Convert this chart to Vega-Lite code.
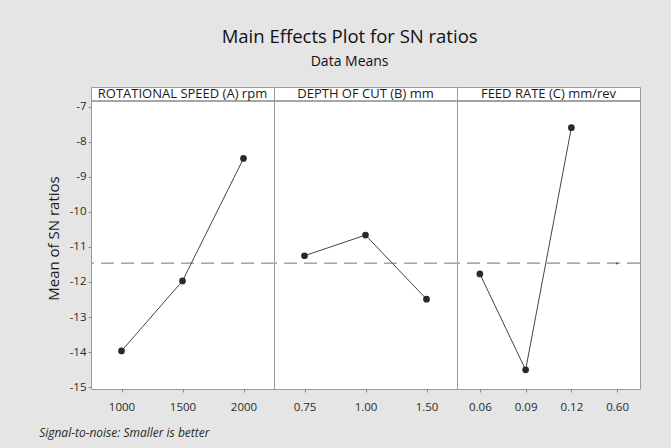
{
  "$schema": "https://vega.github.io/schema/vega-lite/v6.json",
  "background": "#e5e5e5",
  "padding": {"left": 39, "top": 28, "right": 35, "bottom": 9},
  "config": {
    "font": "Open Sans",
    "view": {"fill": "white", "stroke": "#9a9a9a", "strokeWidth": 1},
    "axis": {"domain": false, "grid": false, "tickColor": "#8a8a8a", "tickSize": 3, "labelColor": "#2a2a2a", "labelFontSize": 11.5, "titleColor": "#1a1a1a", "titleFontWeight": "normal", "labelOverlap": false}
  },
  "title": {"text": "Signal-to-noise: Smaller is better", "orient": "bottom", "anchor": "start", "frame": "bounds", "fontStyle": "italic", "fontSize": 12, "fontWeight": "normal", "color": "#2a2a2a", "offset": 15, "dx": -7},
  "data": {"values": [
    {"factor": "A", "label": "ROTATIONAL SPEED (A) rpm", "level": "1000", "sn": -13.97},
    {"factor": "A", "label": "ROTATIONAL SPEED (A) rpm", "level": "1500", "sn": -11.97},
    {"factor": "A", "label": "ROTATIONAL SPEED (A) rpm", "level": "2000", "sn": -8.47},
    {"factor": "B", "label": "DEPTH OF CUT (B) mm", "level": "0.75", "sn": -11.25},
    {"factor": "B", "label": "DEPTH OF CUT (B) mm", "level": "1.00", "sn": -10.66},
    {"factor": "B", "label": "DEPTH OF CUT (B) mm", "level": "1.50", "sn": -12.49},
    {"factor": "C", "label": "FEED RATE (C) mm/rev", "level": "0.06", "sn": -11.77},
    {"factor": "C", "label": "FEED RATE (C) mm/rev", "level": "0.09", "sn": -14.51},
    {"factor": "C", "label": "FEED RATE (C) mm/rev", "level": "0.12", "sn": -7.59},
    {"factor": "C", "label": "FEED RATE (C) mm/rev", "level": "0.60", "sn": null}
  ]},
  "vconcat": [
    {
      "title": {"text": "Main Effects Plot for SN ratios", "subtitle": "Data Means", "anchor": "middle", "frame": "bounds", "dx": 6, "fontSize": 18.5, "fontWeight": "normal", "color": "#111111", "subtitleFontSize": 14, "subtitleColor": "#111111", "subtitlePadding": 8, "offset": 18},
      "facet": {"column": {"field": "factor", "type": "nominal", "title": null, "header": {"labels": false, "title": null}}},
      "spacing": 0,
      "bounds": "flush",
      "resolve": {"scale": {"x": "independent"}},
      "spec": {
        "width": 183,
        "height": 302,
        "layer": [
          {
            "mark": {"type": "rule", "color": "#9a9a9a", "strokeWidth": 1},
            "encoding": {"y": {"datum": -6.829, "type": "quantitative", "axis": {"values": [-15, -14, -13, -12, -11, -10, -9, -8, -7], "labelExpr": "'' + datum.value", "labelOverlap": false, "tickCount": 9, "title": "Mean of SN ratios", "titleFontSize": 15, "titlePadding": 8}}}
          },
          {
            "transform": [{"aggregate": [{"op": "count", "as": "n"}], "groupby": ["factor", "label"]}],
            "mark": {"type": "text", "fontSize": 13, "color": "#1a1a1a", "baseline": "middle"},
            "encoding": {"y": {"datum": -6.629, "type": "quantitative"}, "text": {"field": "label"}}
          },
          {
            "mark": {"type": "rule", "color": "#a8a8a8", "strokeWidth": 1.2, "strokeDash": [13, 7]},
            "encoding": {"y": {"datum": -11.47, "type": "quantitative"}}
          },
          {
            "mark": {"type": "line", "color": "#444444", "strokeWidth": 1},
            "encoding": {
              "x": {"field": "level", "type": "ordinal", "scale": {"type": "point", "padding": 0.5}, "axis": {"title": null, "labelAngle": 0, "labelPadding": 9}},
              "y": {"field": "sn", "type": "quantitative", "scale": {"domain": [-15.057, -6.429], "nice": false, "zero": false}, "axis": {"values": [-15, -14, -13, -12, -11, -10, -9, -8, -7], "labelExpr": "'' + datum.value", "labelOverlap": false, "tickCount": 9, "title": "Mean of SN ratios", "titleFontSize": 15, "titlePadding": 8}}
            }
          },
          {
            "mark": {"type": "point", "filled": true, "color": "#2a2a2a", "opacity": 1, "size": 45},
            "encoding": {
              "x": {"field": "level", "type": "ordinal"},
              "y": {"field": "sn", "type": "quantitative"}
            }
          },
          {
            "transform": [{"filter": "datum.level == '0.60'"}],
            "mark": {"type": "point", "filled": true, "color": "#555555", "opacity": 1, "size": 8, "shape": "triangle-right"},
            "encoding": {
              "x": {"field": "level", "type": "ordinal"},
              "y": {"datum": -11.47, "type": "quantitative"}
            }
          }
        ]
      }
    }
  ]
}
